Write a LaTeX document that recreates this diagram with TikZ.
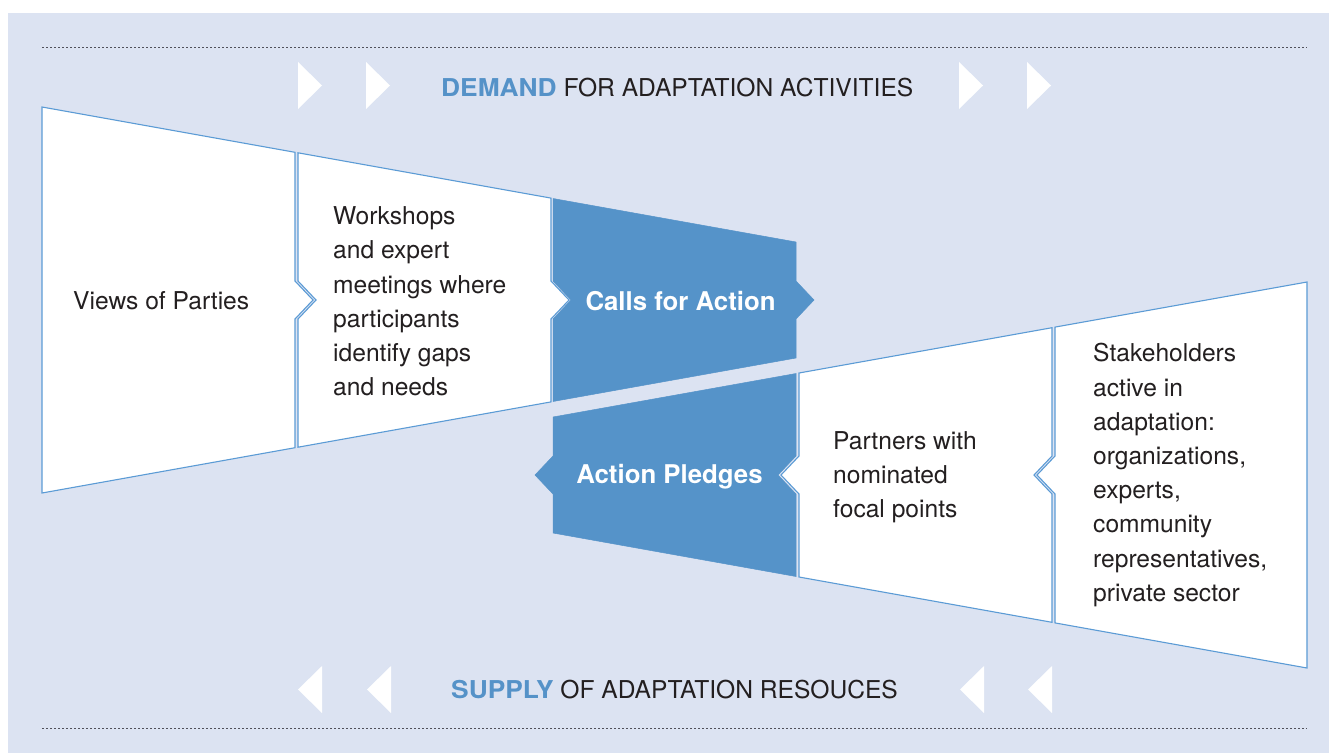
\documentclass[tikz,border=0pt]{standalone}
\usepackage{fontspec}
\usepackage{graphicx}
\setmainfont{TeX Gyre Heros}
\definecolor{bgblue}{HTML}{DCE3F2}
\definecolor{fillblue}{HTML}{5593C9}
\definecolor{lineblue}{HTML}{5B9BD5}
\definecolor{headblue}{HTML}{5592C8}
\definecolor{txt}{HTML}{231F20}
\definecolor{dots}{HTML}{50505A}
\newcommand{\hlword}[1]{\textcolor{headblue}{\scalebox{1.07}[1]{\bfseries #1}}}
\tikzset{
  whitepanel/.style={fill=white,draw=lineblue,line width=1.1pt,line join=miter},
  bluepanel/.style={fill=fillblue,draw=fillblue,line width=0.5pt},
  tri/.style={fill=white,draw=none},
  dotline/.style={draw=dots,line width=1pt,dash pattern=on 2pt off 2pt},
  bodytxt/.style={inner sep=0pt,text=txt,font=\fontsize{24.6}{34.2}\selectfont,align=left},
  boldtxt/.style={inner sep=0pt,text=white,font=\fontsize{25.8}{30}\bfseries\selectfont},
  headtxt/.style={inner sep=0pt,text=txt,font=\fontsize{24.6}{30}\selectfont}
}
\begin{document}
\begin{tikzpicture}[x=1pt,y=-1pt]
\useasboundingbox (0,0) rectangle (1329,753);
\fill[bgblue] (8,13) rectangle (1329,753);
% dotted lines
\draw[dotline] (42,47) -- (1307,47);
\draw[dotline] (42,728) -- (1307,728);
% top arrows
\fill[tri] (298,62) -- (322,85.5) -- (298,109) -- cycle;
\fill[tri] (366,62) -- (390,85.5) -- (366,109) -- cycle;
\fill[tri] (959,62) -- (983,85.5) -- (959,109) -- cycle;
\fill[tri] (1027,62) -- (1051,85.5) -- (1027,109) -- cycle;
% bottom arrows
\fill[tri] (322,666) -- (298,689.5) -- (322,713) -- cycle;
\fill[tri] (391,666) -- (367,689.5) -- (391,713) -- cycle;
\fill[tri] (984,666) -- (960,689.5) -- (984,713) -- cycle;
\fill[tri] (1052,666) -- (1028,689.5) -- (1052,713) -- cycle;
% headings
\node[headtxt,anchor=base west] (demand) at (441,96.5) {\hlword{DEMAND} FOR ADAPTATION ACTIVITIES};
\node[headtxt,anchor=base west] (supply) at (451,698) {\hlword{SUPPLY} OF ADAPTATION RESOUCES};
% upper funnel
\draw[whitepanel] (42,107) -- (295,152.3) -- (295,281) -- (313,300) -- (295,319) -- (295,447.7) -- (42,493) -- cycle;
\draw[whitepanel] (298,152.8) -- (551,198.1) -- (551,281) -- (569,300) -- (551,319) -- (551,401.9) -- (298,447.2) -- (298,319) -- (316,300) -- (298,281) -- cycle;
\draw[bluepanel] (553,198.5) -- (796,242) -- (796,281) -- (814,300) -- (796,319) -- (796,358) -- (553,401.5) -- (553,319) -- (571,300) -- (553,281) -- cycle;
% lower funnel
\draw[whitepanel] (1307,282) -- (1307,668) -- (1055,622.9) -- (1055,494) -- (1037,475) -- (1055,456) -- (1055,327.1) -- cycle;
\draw[whitepanel] (1052,327.7) -- (1052,456) -- (1034,475) -- (1052,494) -- (1052,622.3) -- (799,577) -- (799,494) -- (781,475) -- (799,456) -- (799,373) -- cycle;
\draw[bluepanel] (796,373.5) -- (796,456) -- (778,475) -- (796,494) -- (796,576.5) -- (553,533) -- (553,494) -- (535,475) -- (553,456) -- (553,417) -- cycle;
% texts
\node[bodytxt,anchor=base west] (views) at (73,309) {Views of Parties};
\node[bodytxt,anchor=west] (workshops) at (333,301.5) {Workshops\\and expert\\meetings where\\participants\\identify gaps\\and needs};
\node[boldtxt] (calls) at (680.5,301.5) {Calls for Action};
\node[boldtxt] (pledges) at (669.5,476.5) {Action Pledges};
\node[bodytxt,anchor=west] (partners) at (833,477.5) {Partners with\\nominated\\focal points};
\node[bodytxt,anchor=west] (stake) at (1093,475) {Stakeholders\\active in\\adaptation:\\organizations,\\experts,\\community\\representatives,\\private sector};
\end{tikzpicture}
\end{document}
